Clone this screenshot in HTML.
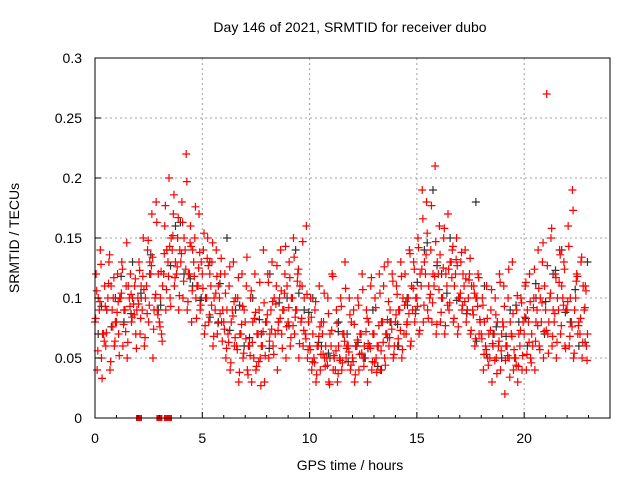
<!DOCTYPE html>
<html><head><meta charset="utf-8"><style>
body{margin:0;background:#fff}
svg{display:block;font-family:"Liberation Sans",sans-serif}
</style></head><body>
<svg id="chart" width="640" height="480" viewBox="0 0 640 480">
<rect width="640" height="480" fill="#fff"/>
<g id="grid"></g>
<g id="marks"></g>
<rect x="95" y="58" width="515" height="360" fill="none" stroke="#000" stroke-width="1"/>
<g id="ticks"></g>
<text x="350" y="32" text-anchor="middle" font-size="14">Day 146 of 2021, SRMTID for receiver dubo</text>
<text x="350" y="470" text-anchor="middle" font-size="14">GPS time / hours</text>
<text transform="translate(19,238) rotate(-90)" text-anchor="middle" font-size="14">SRMTID / TECUs</text>
</svg>
<script>
const xTicks=[0,5,10,15,20];
const yTicks=[0,0.05,0.1,0.15,0.2,0.25,0.3];
const yTickLabels=["0","0.05","0.1","0.15","0.2","0.25","0.3"];
const seriesA=[.08,.09,.07,.1,.09,.08,.1,.09,.1,.095,.1,.09,.11,.12,.1,.08,.12,.13,.14,.12,.13,.14,.12,.13,.11,.12,.1,.11,.09,.1,.08,.07,.09,.06,.07,.08,.06,.05,.07,.06,.08,.09,.07,.1,.09,.08,.1,.09,.08,.07,.06,.05,.06,.07,.05,.06,.04,.05,.07,.06,.05,.06,.07,.05,.06,.07,.06,.08,.07,.08,.08,.09,.07,.1,.09,.1,.11,.12,.1,.11,.12,.1,.11,.13,.12,.1,.11,.1,.09,.1,.07,.06,.05,.07,.06,.08,.06,.07,.05,.06,.07,.08,.06,.09,.08,.09,.1,.08,.09,.1,.09,.08,.1,.07,.09];
const seriesB=[.12,.14,.11,.13,.1,.12,.13,.11,.12,.11,.13,.15,.14,.17,.18,.1,.16,.2,.17,.15,.18,.22,.16,.15,.17,.14,.15,.13,.14,.12,.12,.11,.13,.1,.12,.11,.1,.12,.09,.14,.12,.13,.11,.14,.12,.13,.15,.12,.11,.16,.1,.09,.11,.08,.1,.12,.09,.1,.13,.1,.09,.1,.12,.09,.11,.1,.12,.11,.13,.12,.11,.13,.12,.14,.13,.15,.19,.18,.14,.21,.16,.15,.17,.14,.15,.13,.14,.12,.11,.12,.1,.11,.09,.1,.12,.11,.1,.13,.09,.1,.11,.12,.1,.14,.13,.27,.15,.12,.14,.13,.16,.19,.12,.13,.11];
const seriesC=[.04,.05,.06,.04,.06,.07,.06,.05,.08,.07,.07,.06,.08,.05,.09,.07,.09,.1,.11,.09,.1,.09,.08,.1,.09,.07,.08,.06,.07,.08,.05,.04,.06,.03,.05,.04,.03,.04,.05,.03,.05,.06,.04,.07,.05,.06,.07,.05,.06,.05,.04,.03,.04,.05,.03,.04,.03,.04,.05,.04,.03,.04,.05,.03,.04,.05,.04,.05,.06,.05,.06,.05,.07,.06,.08,.07,.08,.09,.08,.07,.08,.07,.09,.08,.07,.09,.08,.07,.06,.07,.04,.05,.03,.05,.04,.02,.05,.04,.03,.04,.04,.05,.04,.06,.05,.07,.06,.05,.07,.06,.06,.05,.07,.05,.06];
const seriesD=[.1,.07,.09,.11,.08,.1,.09,.11,.1,.09,.11,.1,.13,.09,.12,.11,.14,.15,.13,.14,.15,.12,.14,.11,.13,.1,.12,.1,.11,.09,.09,.08,.1,.07,.09,.06,.08,.07,.06,.08,.07,.1,.08,.09,.11,.1,.09,.11,.1,.08,.07,.06,.08,.06,.07,.05,.06,.07,.06,.08,.06,.07,.06,.08,.07,.06,.08,.07,.09,.06,.09,.1,.08,.11,.1,.12,.13,.11,.12,.13,.1,.12,.13,.11,.1,.12,.09,.11,.1,.08,.08,.07,.06,.08,.07,.06,.08,.05,.07,.08,.09,.07,.08,.1,.11,.08,.09,.1,.11,.09,.1,.09,.08,.11,.07];
const seriesE=[.083,.097,.064,.112,.076,.088,.104,.072,.093,.086,.095,.118,.087,.127,.103,.076,.137,.118,.152,.126,.137,.124,.146,.118,.125,.108,.133,.094,.104,.087,.074,.063,.085,.057,.078,.066,.052,.083,.047,.072,.086,.074,.095,.083,.104,.092,.077,.114,.083,.066,.057,.046,.068,.053,.044,.073,.056,.048,.064,.055,.047,.065,.054,.072,.058,.046,.077,.063,.082,.074,.086,.073,.094,.087,.108,.093,.124,.136,.103,.118,.107,.125,.094,.117,.132,.104,.097,.115,.086,.093,.066,.057,.073,.048,.064,.076,.052,.068,.044,.073,.084,.063,.092,.077,.096,.073,.104,.087,.113,.094,.097,.076,.114,.083,.092];
const seriesF=[.106,.128,.093,.136,.117,.097,.124,.146,.103,.116,.123,.107,.148,.134,.163,.122,.177,.143,.186,.167,.163,.197,.143,.176,.138,.154,.127,.146,.118,.133,.104,.126,.097,.117,.093,.134,.106,.088,.113,.096,.113,.097,.127,.106,.143,.117,.134,.124,.147,.103,.084,.097,.076,.104,.087,.118,.079,.093,.108,.086,.078,.094,.107,.083,.117,.092,.104,.126,.097,.114,.103,.118,.097,.137,.124,.142,.166,.154,.177,.147,.136,.158,.124,.143,.127,.138,.116,.133,.104,.117,.094,.083,.107,.086,.113,.093,.124,.087,.102,.096,.113,.097,.124,.108,.146,.127,.158,.117,.136,.124,.143,.173,.118,.134,.106];
const seriesG=[.056,.033,.071,.047,.064,.052,.078,.063,.084,.058,.083,.067,.094,.074,.086,.064,.107,.093,.117,.102,.114,.097,.106,.083,.094,.077,.086,.068,.079,.064,.058,.046,.067,.038,.054,.036,.063,.043,.027,.052,.064,.053,.073,.058,.076,.067,.084,.062,.073,.057,.047,.036,.053,.043,.028,.052,.037,.046,.058,.044,.036,.053,.043,.062,.047,.038,.056,.044,.067,.053,.066,.057,.078,.064,.087,.073,.094,.083,.096,.078,.088,.077,.096,.083,.076,.094,.087,.073,.066,.082,.053,.044,.062,.037,.056,.048,.034,.057,.043,.052,.053,.046,.064,.057,.072,.054,.068,.063,.077,.058,.068,.054,.077,.063,.048];
const seriesBlack=[.07,.09,.1,.08,.13,.1,.12,.09,.14,.16,.12,.11,.1,.13,.08,.15,.09,.06,.1,.07,.12,.08,.1,.14,.09,.1,.06,.05,.08,.07,.06,.05,.09,.04,.08,.06,.1,.09,.14,.19,.12,.15,.1,.09,.18,.11,.07,.05,.09,.08,.06,.1,.07,.12,.14,.08,.06,.13];
const seriesBlack2=[.093,.076,.118,.087,.104,.136,.094,.127,.163,.116,.098,.084,.112,.073,.094,.067,.082,.058,.096,.077,.104,.088,.063,.054,.072,.047,.063,.058,.043,.067,.078,.094,.113,.146,.127,.104,.098,.087,.064,.053,.076,.068,.094,.083,.112,.097,.123,.088,.107,.063];
const gapHours=[2.05,3.0,3.35,3.45];
const NS="http://www.w3.org/2000/svg";
const X=h=>95+h*(515/24), Y=v=>418-v*1200;
const grid=document.getElementById('grid'),ticks=document.getElementById('ticks'),marks=document.getElementById('marks');
function ln(p,x1,y1,x2,y2,c,w,d){const l=document.createElementNS(NS,'line');l.setAttribute('x1',x1);l.setAttribute('y1',y1);l.setAttribute('x2',x2);l.setAttribute('y2',y2);l.setAttribute('stroke',c);l.setAttribute('stroke-width',w);if(d)l.setAttribute('stroke-dasharray',d);p.appendChild(l);return l;}
function tx(p,x,y,s,a){const t=document.createElementNS(NS,'text');t.setAttribute('x',x);t.setAttribute('y',y);t.setAttribute('text-anchor',a);t.setAttribute('font-size','14');t.textContent=s;p.appendChild(t);return t;}
xTicks.forEach(h=>{const x=X(h);
if(h>0){const g=ln(grid,x,58,x,418,'#a0a0a0',1,'2,3');}
const a=ln(ticks,x,418,x,412,'#000',1);
const t=tx(ticks,x,443,String(h),'middle');});
yTicks.forEach((v,i)=>{const y=Y(v);
if(v>0&&v<0.3){const g=ln(grid,95,y,610,y,'#a0a0a0',1,'2,3');}
const a=ln(ticks,95,y,101,y,'#000',1);
const t=tx(ticks,82,y+5,yTickLabels[i],'end');});
[1,2,3,4,6,7,8,9,11,12,13,14,16,17,18,19,21,22,23].forEach(h=>{const m=ln(ticks,X(h),418,X(h),415,'#000',1);});
function plus(h,v,c){const g=document.createElementNS(NS,'path');const x=X(h),y=Y(v);
g.setAttribute('d',`M${x-4},${y}H${x+4}M${x},${y-4}V${y+4}`);g.setAttribute('stroke',c);g.setAttribute('stroke-width','1.2');g.setAttribute('fill','none');marks.appendChild(g);return g;}
[[seriesBlack,0.4,0.15],[seriesBlack2,0.46,0.3]].forEach(([s,step,o])=>s.forEach((v,i)=>{const p=plus(i*step+o,v,'#333');

}));
[[seriesA,0],[seriesB,0.05],[seriesC,0.1],[seriesD,0.15],[seriesE,0.03],[seriesF,0.08],[seriesG,0.13]].forEach(([s,o])=>s.forEach((v,i)=>{const p=plus(i*0.2+o,v,'#f00');

}));
gapHours.forEach(h=>{const r=document.createElementNS(NS,'rect');r.setAttribute('x',X(h)-3);r.setAttribute('y',415);r.setAttribute('width',6);r.setAttribute('height',6);r.setAttribute('fill','#f00');


marks.appendChild(r);});
</script>
</body></html>
